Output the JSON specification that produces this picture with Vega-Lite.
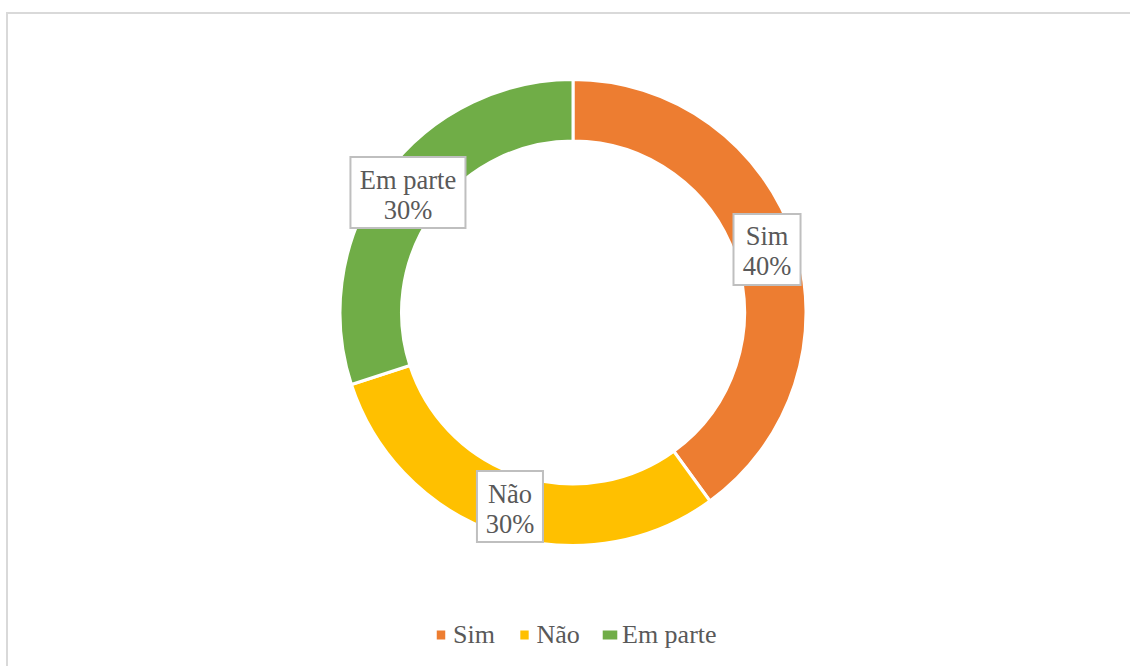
{
  "$schema": "https://vega.github.io/schema/vega-lite/v6.json",
  "width": 1133,
  "height": 663,
  "autosize": {"type": "none"},
  "padding": {"left": 7, "top": 13, "right": -10, "bottom": -10},
  "background": "white",
  "config": {
    "view": {"stroke": "#D9D9D9", "strokeWidth": 2},
    "font": "Liberation Serif, Times New Roman, serif"
  },
  "data": {
    "values": [
      {"categoria": "Sim", "valor": 0.4, "ordem": 1},
      {"categoria": "Não", "valor": 0.3, "ordem": 2},
      {"categoria": "Em parte", "valor": 0.3, "ordem": 3}
    ]
  },
  "transform": [
    {"stack": "valor", "groupby": [], "sort": [{"field": "ordem"}], "as": ["v0", "v1"]},
    {"calculate": "PI * (datum.v0 + datum.v1)", "as": "meio"},
    {"calculate": "204 * sin(datum.meio)", "as": "lx"},
    {"calculate": "-204 * cos(datum.meio)", "as": "ly"}
  ],
  "layer": [
    {
      "mark": {"type": "arc", "outerRadius": 233, "innerRadius": 171.5, "stroke": "white", "strokeWidth": 3},
      "encoding": {
        "x": {"datum": 0, "type": "quantitative", "scale": {"domain": [-566, 567], "nice": false, "zero": false}, "axis": null},
        "y": {"datum": 0, "type": "quantitative", "scale": {"domain": [-299.5, 363.5], "reverse": true, "nice": false, "zero": false}, "axis": null},
        "theta": {"field": "valor", "type": "quantitative", "stack": true},
        "order": {"field": "ordem", "type": "quantitative"},
        "color": {
          "field": "categoria",
          "type": "nominal",
          "scale": {"domain": ["Sim", "Não", "Em parte"], "range": ["#ED7D31", "#FFC000", "#70AD47"]},
          "legend": {
            "title": null,
            "orient": "none",
            "direction": "horizontal",
            "legendX": 421,
            "legendY": 609,
            "symbolType": "square",
            "symbolSize": 81,
            "symbolStrokeWidth": 0,
            "labelFont": "Liberation Serif, Times New Roman, serif",
            "labelFontSize": 26,
            "labelColor": "#595959",
            "labelOffset": -1,
            "columnPadding": 16.5,
            "padding": 0
          }
        }
      }
    },
    {
      "mark": {"type": "point", "filled": true, "fill": "white", "stroke": "#BFBFBF", "strokeWidth": 2, "opacity": 1, "size": 5041},
      "encoding": {
        "x": {"field": "lx", "type": "quantitative", "scale": {"domain": [-566, 567], "nice": false, "zero": false}, "axis": null},
        "y": {"field": "ly", "type": "quantitative", "scale": {"domain": [-299.5, 363.5], "reverse": true, "nice": false, "zero": false}, "axis": null},
        "shape": {
          "field": "categoria",
          "type": "nominal",
          "scale": {"domain": ["Sim", "Não", "Em parte"], "range": ["M-0.944,-1H0.944V1H-0.944Z", "M-0.93,-1H0.93V1H-0.93Z", "M-1.62,-1H1.62V1H-1.62Z"]},
          "legend": null
        }
      }
    },
    {
      "mark": {"type": "text", "font": "Liberation Serif, Times New Roman, serif", "fontSize": 26.5, "fill": "#595959", "align": "center", "baseline": "alphabetic", "dy": -4},
      "encoding": {
        "x": {"field": "lx", "type": "quantitative", "scale": {"domain": [-566, 567], "nice": false, "zero": false}, "axis": null},
        "y": {"field": "ly", "type": "quantitative", "scale": {"domain": [-299.5, 363.5], "reverse": true, "nice": false, "zero": false}, "axis": null},
        "text": {"field": "categoria", "type": "nominal"}
      }
    },
    {
      "mark": {"type": "text", "font": "Liberation Serif, Times New Roman, serif", "fontSize": 26.5, "fill": "#595959", "align": "center", "baseline": "alphabetic", "dy": 26},
      "encoding": {
        "x": {"field": "lx", "type": "quantitative", "scale": {"domain": [-566, 567], "nice": false, "zero": false}, "axis": null},
        "y": {"field": "ly", "type": "quantitative", "scale": {"domain": [-299.5, 363.5], "reverse": true, "nice": false, "zero": false}, "axis": null},
        "text": {"field": "valor", "type": "quantitative", "format": ".0%"}
      }
    }
  ]
}
